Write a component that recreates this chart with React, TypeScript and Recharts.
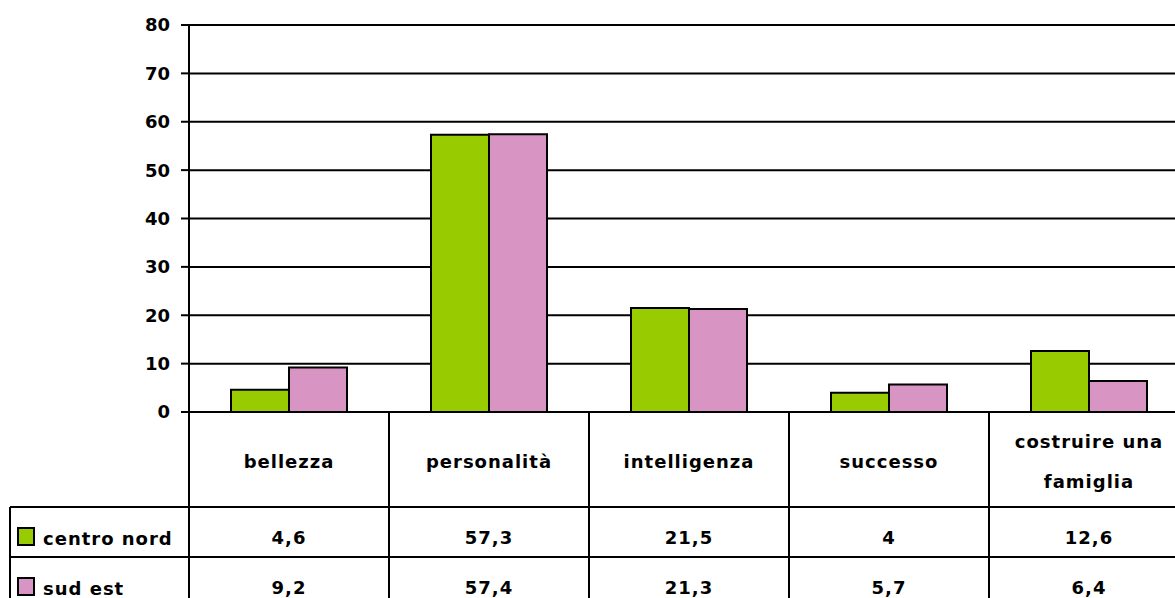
import { Bar, BarChart, CartesianGrid, XAxis, YAxis } from "recharts";

const categories = ["bellezza", "personalità", "intelligenza", "successo", "costruire una\nfamiglia"];
const centroNord = [4.6, 57.3, 21.5, 4, 12.6];
const sudEst = [9.2, 57.4, 21.3, 5.7, 6.4];
const seriesNames = ["centro nord", "sud est"];
const yTicks = [0, 10, 20, 30, 40, 50, 60, 70, 80];

const GREEN = "#99CC00";
const PINK = "#D894C3";
const FONT = '"Comic Sans MS", "DejaVu Sans", sans-serif';

const CHART_W = 1200;
const CHART_H = 620;
const CELL_W = (CHART_W - 189 - 11) / categories.length;
const HEADER_H = 95;
const ROW_H = 50;
const LEGEND_W = 179;

const data = categories.map((name, i) => ({
  name,
  centroNord: centroNord[i],
  sudEst: sudEst[i]
}));

const fmt = (v: number) => String(v).replace(".", ",");

function TableTick({ x, y, payload, index }: any) {
  const left = x - CELL_W / 2;
  const right = x + CELL_W / 2;
  const row1 = y + HEADER_H;
  const row2 = row1 + ROW_H;
  const bottom = row2 + ROW_H + 30;
  const lines = String(payload.value).split("\n");
  const headMid = y + HEADER_H / 2 + 2;
  const lineH = 40;
  const textProps = {
    fontFamily: FONT,
    fontWeight: 700,
    fontSize: 18,
    fill: "#000",
    textAnchor: "middle" as const,
    dominantBaseline: "central" as const,
    letterSpacing: 1
  };
  const legendLeft = left - LEGEND_W;
  const values = [centroNord[index], sudEst[index]];
  const colors = [GREEN, PINK];

  return (
    <g>
      {index === 0 && <line x1={left} x2={left} y1={y} y2={bottom} stroke="#000" strokeWidth={2} />}
      <line x1={right} x2={right} y1={y} y2={bottom} stroke="#000" strokeWidth={2} />
      <line x1={index === 0 ? legendLeft : left} x2={right} y1={row1} y2={row1} stroke="#000" strokeWidth={2} />
      <line x1={index === 0 ? legendLeft : left} x2={right} y1={row2} y2={row2} stroke="#000" strokeWidth={2} />
      {lines.map((t, i) => (
        <text key={i} x={x} y={headMid + (i - (lines.length - 1) / 2) * lineH} {...textProps}>
          {t}
        </text>
      ))}
      {values.map((v, i) => (
        <text key={i} x={x} y={row1 + i * ROW_H + 30} {...textProps}>
          {fmt(v)}
        </text>
      ))}
      {index === 0 && (
        <g>
          <line x1={legendLeft} x2={legendLeft} y1={row1} y2={bottom} stroke="#000" strokeWidth={2} />
          {seriesNames.map((s, i) => (
            <g key={s}>
              <rect x={legendLeft + 8} y={row1 + i * ROW_H + 21} width={16} height={17} fill={colors[i]} stroke="#000" strokeWidth={2} />
              <text
                x={legendLeft + 33}
                y={row1 + i * ROW_H + 31}
                fontFamily={FONT}
                fontWeight={700}
                fontSize={18}
                fill="#000"
                dominantBaseline="central"
                letterSpacing={1}
              >
                {s}
              </text>
            </g>
          ))}
        </g>
      )}
    </g>
  );
}

export default function App() {
  return (
    <div style={{ position: "absolute", left: 0, top: 0, width: 1175, height: 598, overflow: "hidden", background: "#fff" }}>
      <BarChart
        width={CHART_W}
        height={CHART_H}
        data={data}
        margin={{ top: 25, right: 11, bottom: 0, left: 0 }}
        barCategoryGap="21%"
        barGap={0}
        style={{ fontFamily: FONT }}
      >
        <CartesianGrid horizontal vertical={false} stroke="#000" strokeWidth={2} />
        <XAxis
          dataKey="name"
          height={208}
          interval={0}
          tickLine={false}
          tickSize={0}
          tickMargin={0}
          axisLine={{ stroke: "#000", strokeWidth: 2 }}
          tick={<TableTick />}
        />
        <YAxis
          width={189}
          domain={[0, 80]}
          ticks={yTicks}
          interval={0}
          tickSize={8}
          tickMargin={11}
          axisLine={{ stroke: "#000", strokeWidth: 2 }}
          tickLine={{ stroke: "#000", strokeWidth: 2 }}
          tick={{ fill: "#000", fontSize: 18, fontWeight: 700, fontFamily: FONT }}
        />
        <Bar dataKey="centroNord" fill={GREEN} stroke="#000" strokeWidth={2} isAnimationActive={false} />
        <Bar dataKey="sudEst" fill={PINK} stroke="#000" strokeWidth={2} isAnimationActive={false} />
      </BarChart>
    </div>
  );
}
